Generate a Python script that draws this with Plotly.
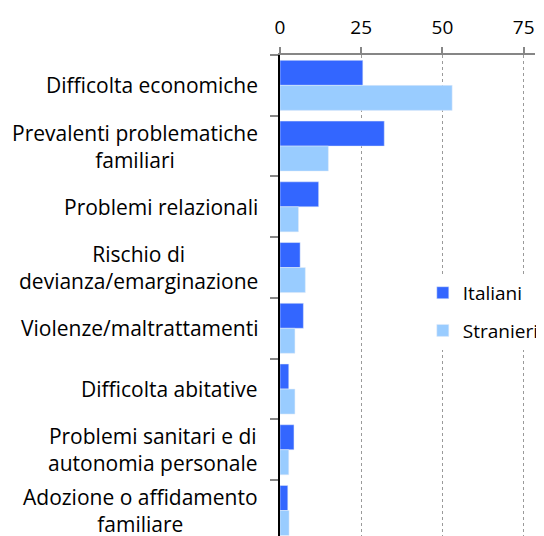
import plotly.graph_objects as go

categories = [
    "Difficolta economiche",
    "Prevalenti problematiche<br>familiari",
    "Problemi relazionali",
    "Rischio di<br>devianza/emarginazione",
    "Violenze/maltrattamenti",
    "Difficolta abitative",
    "Problemi sanitari e di<br>autonomia personale",
    "Adozione o affidamento<br>familiare",
]
italiani = [25.5, 32.1, 11.9, 6.2, 7.2, 2.7, 4.3, 2.4]
stranieri = [53.0, 14.9, 5.7, 7.8, 4.6, 4.6, 2.7, 2.8]
x_ticks = [0, 25, 50, 75]

FONT = "Open Sans"
FS = 19
FS_LAB = 21

fig = go.Figure()
fig.add_trace(go.Bar(y=categories, x=italiani, orientation="h", name="Italiani",
                     marker=dict(color="#3366FF"), legendgroup="a"))
fig.add_trace(go.Bar(y=categories, x=stranieri, orientation="h", name="Stranieri",
                     marker=dict(color="#99CCFF"), legendgroup="b"))

for c in categories:
    fig.add_annotation(x=0, xref="paper", xanchor="right", xshift=-20,
                       y=c, yref="y", yanchor="middle", text=c, showarrow=False,
                       align="center", font=dict(family=FONT, size=FS_LAB, color="black"))

# page body has an 8px margin; figure sized to fill the remaining window
fig.update_layout(
    width=536, height=528,
    margin=dict(l=272, r=0, t=47, b=0),
    paper_bgcolor="white", plot_bgcolor="white",
    barmode="group", bargap=0.176, bargroupgap=0,
    font=dict(family=FONT, size=FS, color="black"),
    showlegend=True,
    legend=dict(x=0.56, y=0.545, xanchor="left", yanchor="top",
                bgcolor="white", font=dict(family=FONT, size=FS),
                traceorder="grouped", tracegroupgap=10, itemwidth=30),
)
fig.update_xaxes(side="top", range=[0, 78.5], tickvals=x_ticks, ticktext=[str(v) for v in x_ticks],
                 showgrid=True, gridcolor="#9a9a9a", griddash="dot", gridwidth=1,
                 showline=True, linecolor="#868686", linewidth=1.5,
                 ticks="outside", ticklen=6, tickcolor="#868686", tickwidth=1.5,
                 ticklabelstandoff=6,
                 zeroline=False, tickfont=dict(family=FONT, size=FS))
fig.update_yaxes(type="category", range=[7.42, -0.5], showticklabels=False,
                 tickson="boundaries", ticks="outside", ticklen=8, tickcolor="#868686", tickwidth=1.5,
                 showline=True, linecolor="black", linewidth=1.5, showgrid=False, zeroline=False)

fig.write_html("out.html")
